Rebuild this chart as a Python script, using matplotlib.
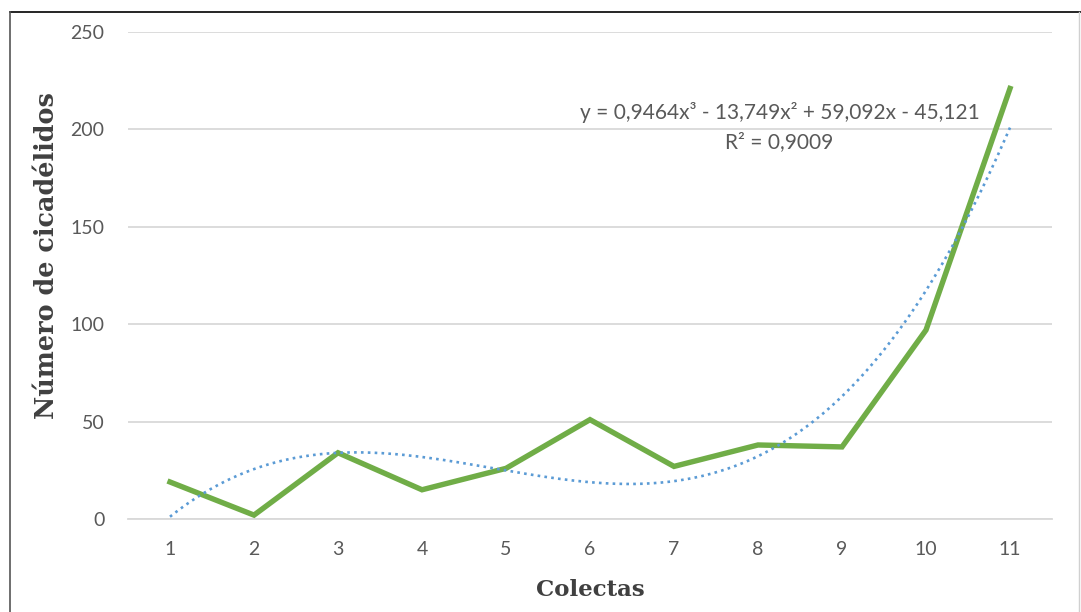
import numpy as np
import matplotlib
matplotlib.use("Agg")
import matplotlib.pyplot as plt
from matplotlib.lines import Line2D

# Collection events and leafhopper counts
colectas = [1, 2, 3, 4, 5, 6, 7, 8, 9, 10, 11]
cicadelidos = [19, 2, 34, 15, 26, 51, 27, 38, 37, 97, 221]

# Third-order polynomial trendline (highest power first) and its R²
trend_coefs = [0.9464, -13.749, 59.092, -45.121]
r_cuadrado = 0.9009
eq_text = "y = 0,9464x³ - 13,749x² + 59,092x - 45,121"
r2_text = "R² = 0,9009"

y_ticks = [0, 50, 100, 150, 200, 250]

W, H = 1081, 612
fig = plt.figure(figsize=(W / 100, H / 100), dpi=100)
fig.patch.set_facecolor("white")

ax = fig.add_axes([128 / W, 1 - 519 / H, (1052 - 128) / W, (519 - 32) / H])
ax.set_xlim(0.5, 11.5)
ax.set_ylim(0, 250)

tick_color = "#595959"
grid_color = "#D9D9D9"

ax.set_yticks(y_ticks)
ax.set_xticks(colectas)
ax.set_xticklabels([str(c) for c in colectas])
ax.yaxis.grid(True, color=grid_color, linewidth=1.3)
ax.set_axisbelow(True)
for s in ["top", "right", "left"]:
    ax.spines[s].set_visible(False)
ax.spines["bottom"].set_color(grid_color)
ax.spines["bottom"].set_linewidth(1.3)
ax.tick_params(axis="both", length=0, labelsize=14, labelcolor=tick_color)
ax.tick_params(axis="x", pad=16)
ax.tick_params(axis="y", pad=17)
for lab in ax.get_xticklabels() + ax.get_yticklabels():
    lab.set_family("Lato")

# Observed counts
ax.plot(colectas, cicadelidos, color="#70AD47", linewidth=3.9,
        solid_joinstyle="miter", zorder=3)

# Polynomial trendline
xs = np.linspace(colectas[0], colectas[-1], 400)
ys = np.polyval(trend_coefs, xs)
ax.plot(xs, ys, color="#5B9BD5", linewidth=1.9, linestyle=(0, (1, 1.6)),
        dash_capstyle="butt", zorder=4)

# Trendline equation
ax.text(0.705, 0.835, eq_text, transform=ax.transAxes, ha="center", va="center",
        fontsize=15, color=tick_color, family="Lato")
ax.text(0.705, 0.773, r2_text, transform=ax.transAxes, ha="center", va="center",
        fontsize=15, color=tick_color, family="Lato")

# Axis titles
fig.text(47 / W, 1 - 256 / H, "Número de cicadélidos", rotation=90,
         ha="center", va="center", fontsize=18.4, fontweight="bold",
         color="#404040", family="DejaVu Serif")
fig.text(590 / W, 1 - 590 / H, "Colectas", ha="center", va="center",
         fontsize=16.5, fontweight="bold", color="#404040",
         family="DejaVu Serif")

# Chart area border
fig.add_artist(Line2D([10 / W, 1.0], [1 - 12 / H, 1 - 12 / H], color="black",
                      linewidth=1.2, transform=fig.transFigure))
fig.add_artist(Line2D([10 / W, 10 / W], [0, 1 - 12 / H], color="#555555",
                      linewidth=1.2, transform=fig.transFigure))
fig.add_artist(Line2D([1079 / W, 1079 / W], [0, 1 - 12 / H], color="#D0D0D0",
                      linewidth=1.0, transform=fig.transFigure))

fig.savefig("out.png", dpi=100, facecolor="white")
